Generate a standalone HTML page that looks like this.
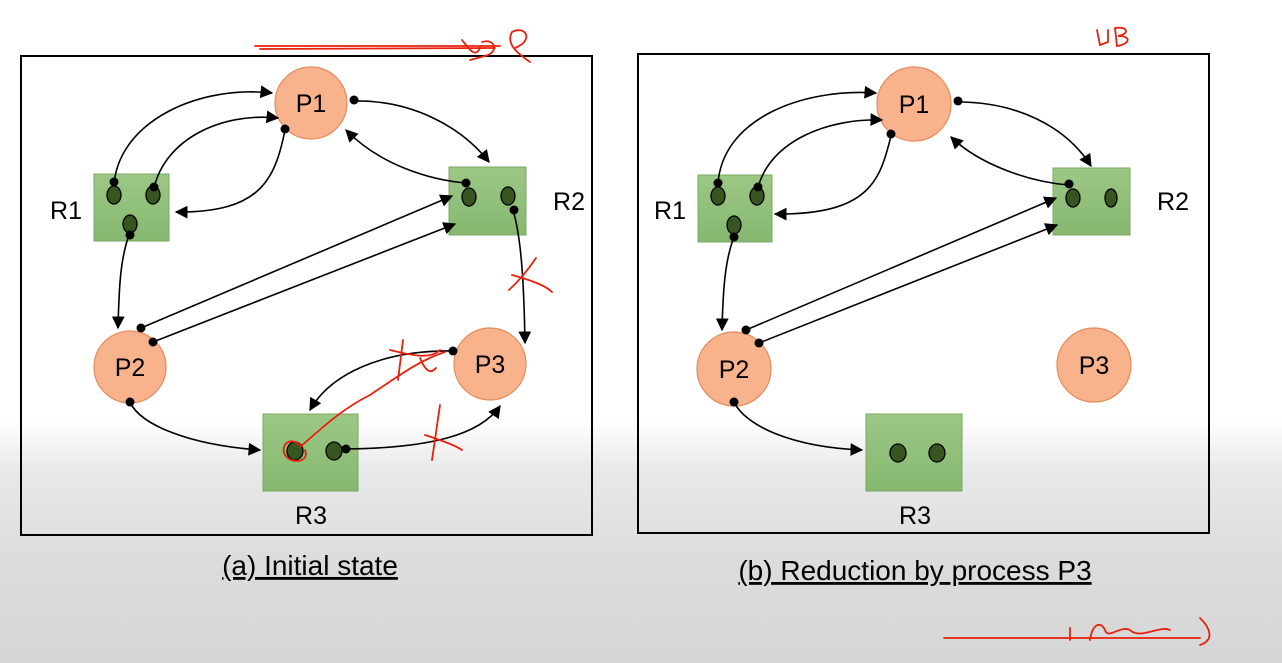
<!DOCTYPE html>
<html><head><meta charset="utf-8"><style>
html,body{margin:0;padding:0;width:1282px;height:663px;overflow:hidden;}
body{background:linear-gradient(to bottom,#ffffff 0px,#ffffff 420px,#e9e9e9 470px,#dcdcdc 560px,#d6d6d6 663px);}
svg{position:absolute;left:0;top:0;}
text{font-family:"Liberation Sans","DejaVu Sans",sans-serif;}
</style></head><body>
<svg width="1282" height="663" viewBox="0 0 1282 663" xmlns="http://www.w3.org/2000/svg">
<defs>
<marker id="ar" viewBox="0 0 10 10" refX="9" refY="5" markerWidth="8" markerHeight="8" orient="auto-start-reverse"><path d="M0,0 L10,5 L0,10 z" fill="#000"/></marker>
<linearGradient id="g" x1="0" y1="0" x2="0" y2="1"><stop offset="0" stop-color="#9cc886"/><stop offset="1" stop-color="#86b870"/></linearGradient>
</defs>
<g fill="none" stroke="#000">
<rect x="21" y="56" width="571" height="479" stroke-width="2"/>
<rect x="638" y="54" width="571" height="479" stroke-width="2"/>
</g>

<!-- LEFT PANEL -->
<g stroke="#e38c5c" stroke-width="1.2" fill="#f8b28c">
<circle cx="311" cy="103" r="36"/><circle cx="130" cy="367" r="36"/><circle cx="490" cy="364" r="36"/>
</g>
<g fill="url(#g)" stroke="#78a860" stroke-width="1">
<rect x="94" y="174" width="75" height="67"/><rect x="449" y="167" width="77" height="68"/><rect x="263" y="414" width="95" height="77"/>
</g>
<g fill="#37561f" stroke="#000" stroke-width="1.3">
<ellipse cx="114" cy="195" rx="7" ry="9"/><ellipse cx="153" cy="195" rx="7" ry="9"/><ellipse cx="130" cy="224" rx="7" ry="9"/>
<ellipse cx="469" cy="197" rx="7" ry="9"/><ellipse cx="508" cy="196" rx="7" ry="9"/>
<ellipse cx="295" cy="451" rx="8" ry="9"/><ellipse cx="334" cy="451" rx="8" ry="9"/>
</g>
<g fill="none" stroke="#000" stroke-width="1.6" marker-end="url(#ar)">
<path d="M114,184 C120,120 200,85 272,93"/>
<path d="M154,188 C165,140 220,112 278,118"/>
<path d="M285,130 C275,180 260,213 176,212"/>
<path d="M129,235 C120,260 119,290 118,328"/>
<path d="M354,101 C410,100 460,125 489,162"/>
<path d="M466,183 C430,180 380,165 346,130"/>
<path d="M513,210 C522,240 524,290 525,343"/>
<path d="M141,328 L452,196"/>
<path d="M153,342 L455,224"/>
<path d="M130,402 C140,425 190,445 260,450"/>
<path d="M453,351 C380,350 330,375 310,410"/>
<path d="M346,449 C430,448 480,435 500,406"/>
</g>
<g fill="#000">
<circle cx="114" cy="182" r="4.5"/><circle cx="154" cy="187" r="4.5"/><circle cx="130" cy="235" r="4.5"/>
<circle cx="285" cy="129" r="4.5"/><circle cx="354" cy="100" r="4.5"/><circle cx="466" cy="183" r="4.5"/><circle cx="514" cy="210" r="4.5"/>
<circle cx="141" cy="328" r="4.5"/><circle cx="153" cy="342" r="4.5"/><circle cx="130" cy="402" r="4.5"/>
<circle cx="453" cy="351" r="4.5"/><circle cx="346" cy="449" r="4.5"/>
</g>
<g font-size="25" fill="#000" text-anchor="middle">
<text x="311" y="112">P1</text><text x="130" y="376">P2</text><text x="490" y="373">P3</text>
<text x="66" y="219">R1</text><text x="569" y="210">R2</text><text x="311" y="524">R3</text>
</g>
<text x="310" y="575" font-size="28" text-anchor="middle" text-decoration="underline">(a) Initial state</text>

<!-- RIGHT PANEL -->
<g stroke="#e38c5c" stroke-width="1.2" fill="#f8b28c">
<circle cx="914" cy="104" r="37"/><circle cx="734" cy="369" r="37"/><circle cx="1094" cy="365" r="37"/>
</g>
<g fill="url(#g)" stroke="#78a860" stroke-width="1">
<rect x="698" y="175" width="74" height="67"/><rect x="1053" y="168" width="77" height="67"/><rect x="866" y="414" width="96" height="77"/>
</g>
<g fill="#37561f" stroke="#000" stroke-width="1.3">
<ellipse cx="718" cy="196" rx="7" ry="9"/><ellipse cx="757" cy="196" rx="7" ry="9"/><ellipse cx="734" cy="225" rx="7" ry="9"/>
<ellipse cx="1073" cy="198" rx="7" ry="9"/><ellipse cx="1111" cy="198" rx="6" ry="9"/>
<ellipse cx="898" cy="453" rx="8" ry="9"/><ellipse cx="937" cy="453" rx="8" ry="9"/>
</g>
<g fill="none" stroke="#000" stroke-width="1.6" marker-end="url(#ar)">
<path d="M718,184 C722,120 800,88 876,93"/>
<path d="M758,188 C770,140 830,118 882,120"/>
<path d="M891,136 C880,180 870,215 775,214"/>
<path d="M734,237 C725,260 723,290 722,330"/>
<path d="M958,102 C1015,102 1065,125 1091,166"/>
<path d="M1069,185 C1030,182 980,165 951,137"/>
<path d="M746,330 L1056,198"/>
<path d="M759,343 L1057,225"/>
<path d="M734,402 C745,425 790,447 862,450"/>
</g>
<g fill="#000">
<circle cx="718" cy="183" r="4.5"/><circle cx="758" cy="187" r="4.5"/><circle cx="734" cy="237" r="4.5"/>
<circle cx="891" cy="134" r="4.5"/><circle cx="958" cy="101" r="4.5"/><circle cx="1069" cy="184" r="4.5"/>
<circle cx="746" cy="330" r="4.5"/><circle cx="759" cy="343" r="4.5"/><circle cx="734" cy="402" r="4.5"/>
</g>
<g font-size="25" fill="#000" text-anchor="middle">
<text x="914" y="113">P1</text><text x="734" y="378">P2</text><text x="1094" y="374">P3</text>
<text x="670" y="219">R1</text><text x="1173" y="210">R2</text><text x="915" y="524">R3</text>
</g>
<text x="915" y="580" font-size="28" text-anchor="middle" text-decoration="underline">(b) Reduction by process P3</text>

<!-- red annotations -->
<g fill="none" stroke="#e8200c" stroke-width="1.8" stroke-linecap="round">
<path d="M255,46 L500,46"/><path d="M260,49 L495,48"/>
<path d="M462,40 C470,50 475,58 480,48 M482,42 C495,38 500,52 485,56 L470,60"/>
<path d="M512,32 C505,45 520,55 530,62 M512,32 C525,25 535,40 515,48"/>
<path d="M1097,30 L1100,45 L1108,42 L1108,30 M1115,28 L1117,46 C1130,44 1132,36 1118,36 C1130,34 1128,26 1115,28"/>
<path d="M509,290 C520,280 528,270 536,258 M512,275 C530,280 545,285 552,292"/>
<path d="M403,340 L398,380 M390,350 C410,355 430,360 440,350 M420,358 C425,370 430,375 436,368"/>
<path d="M300,447 C320,430 340,410 370,395 C400,375 420,360 445,352"/>
<path d="M300,445 C290,436 280,445 285,455 C292,465 310,462 305,450"/>
<path d="M440,405 L432,460 M425,435 C440,440 455,445 462,450"/>
<path d="M944,638 L1200,638 M1070,628 L1070,640 M1090,640 C1092,625 1100,620 1105,630 C1108,640 1120,625 1130,630 C1140,640 1160,625 1170,630 M1200,618 C1210,628 1215,640 1200,645"/>
</g>
</svg>
</body></html>
